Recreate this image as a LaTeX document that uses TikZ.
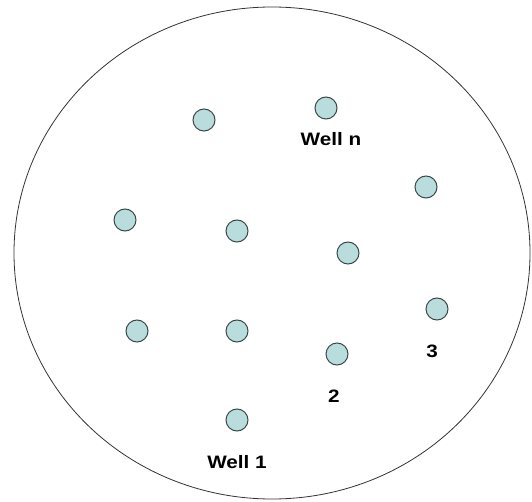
\documentclass[tikz,border=0pt]{standalone}
\usepackage{fontspec}
\setmainfont{Liberation Sans}
\usetikzlibrary{positioning}
\definecolor{wellfill}{HTML}{B9DDDD}
\definecolor{welledge}{HTML}{3C4848}
\tikzset{
  well/.style={circle, draw=welledge, fill=wellfill, line width=1pt, minimum size=22pt, inner sep=0pt},
  welllabel/.style={font=\fontsize{18}{20}\selectfont\bfseries, inner sep=0pt, xscale=1.15},
  field/.style={draw=black!80, line width=0.8pt}
}

\begin{document}
\begin{tikzpicture}[x=1pt, y=-1pt]
\useasboundingbox (0,0) rectangle (532,502);
\draw[field] (272,253) ellipse [x radius=258, y radius=246];
% wells
\foreach \px/\py/\n in {204/120/a, 326/108/n, 426/187/b, 125/220/c, 237/231/d,
    348/253/e, 137/331/f, 237/331/g, 437/309/3, 337/354/2, 237/420/1}
  \node[well] (w\n) at (\px,\py) {};
% labels
\node[welllabel] (labn) at (331,139) {Well n};
\node[welllabel] (lab3) at (432,351) {3};
\node[welllabel] (lab2) at (334,396) {2};
\node[welllabel] (lab1) at (237,462) {Well 1};
\end{tikzpicture}
\end{document}
